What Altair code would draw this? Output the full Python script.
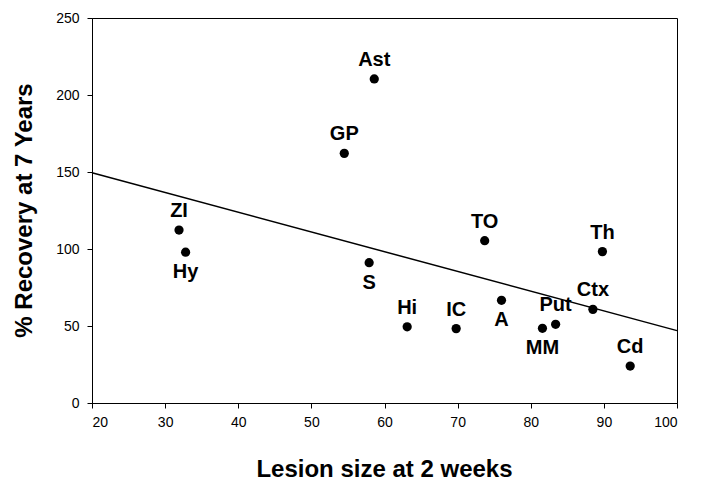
import altair as alt
import pandas as pd

regions = ["ZI", "Hy", "GP", "Ast", "TO", "Th", "S", "Hi", "IC", "A", "MM", "Put", "Ctx", "Cd"]
lesion = [31.9, 32.8, 54.5, 58.6, 73.7, 89.8, 57.9, 63.1, 69.8, 76.0, 81.6, 83.4, 88.5, 93.6]
recovery = [112.3, 97.9, 162.1, 210.4, 105.4, 98.3, 91.1, 49.5, 48.3, 66.7, 48.5, 51.1, 60.8, 24.0]
label_side = ["above", "below", "above", "above", "above", "above", "below", "above",
              "above", "below", "below", "above", "above", "above"]

fit_x = [20, 100]
fit_y = [149.5, 47.0]

df = pd.DataFrame({"region": regions, "lesion": lesion, "recovery": recovery, "side": label_side})
fit = pd.DataFrame({"lesion": fit_x, "recovery": fit_y})

FONT = "Liberation Sans"

xscale = alt.Scale(domain=[20, 100], nice=False, zero=False)
yscale = alt.Scale(domain=[0, 250], nice=False)

xaxis = alt.Axis(values=[20, 30, 40, 50, 60, 70, 80, 90, 100], title="Lesion size at 2 weeks",
                 grid=False, tickSize=5, labelPadding=7, labelFont=FONT, labelFontSize=14,
                 labelColor="black", domainColor="black", tickColor="black",
                 titleFont=FONT, titleFontSize=24, titleFontWeight="bold", titleColor="black",
                 titleX=292, titleY=66, titleBaseline="middle")
yaxis = alt.Axis(values=[0, 50, 100, 150, 200, 250], title="% Recovery at 7 Years",
                 grid=False, tickSize=5, labelPadding=8, labelFont=FONT, labelFontSize=14,
                 labelColor="black", domainColor="black", tickColor="black",
                 titleFont=FONT, titleFontSize=24, titleFontWeight="bold", titleColor="black",
                 titleX=-68, titleY=192, titleBaseline="middle", titleAngle=-90)

line = alt.Chart(fit).mark_line(color="black", strokeWidth=1.5).encode(
    x=alt.X("lesion:Q", scale=xscale, axis=xaxis),
    y=alt.Y("recovery:Q", scale=yscale, axis=yaxis),
)

pts = alt.Chart(df).mark_point(filled=True, color="black", opacity=1, size=85).encode(
    x=alt.X("lesion:Q", scale=xscale),
    y=alt.Y("recovery:Q", scale=yscale),
)

above = alt.Chart(df).transform_filter(alt.datum.side == "above").mark_text(
    font=FONT, fontSize=20, fontWeight="bold", color="black", dy=-19, baseline="middle"
).encode(x=alt.X("lesion:Q", scale=xscale), y=alt.Y("recovery:Q", scale=yscale), text="region:N")

below = alt.Chart(df).transform_filter(alt.datum.side == "below").mark_text(
    font=FONT, fontSize=20, fontWeight="bold", color="black", dy=20, baseline="middle"
).encode(x=alt.X("lesion:Q", scale=xscale), y=alt.Y("recovery:Q", scale=yscale), text="region:N")

chart = alt.layer(line, pts, above, below).properties(
    width=585, height=385,
    autosize=alt.AutoSizeParams(type="none"),
    padding={"left": 84, "top": 10, "right": 17, "bottom": 80},
    background="white",
).configure_view(stroke="black", strokeWidth=1)

chart.save("out.html", embed_options={"renderer": "svg", "actions": False})
